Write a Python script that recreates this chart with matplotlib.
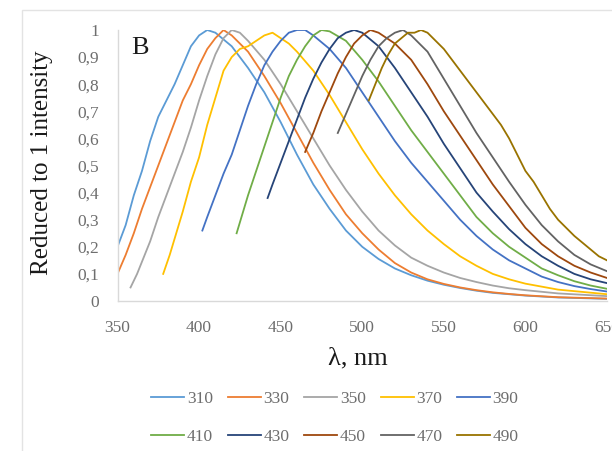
import matplotlib
matplotlib.use("Agg")
import matplotlib.pyplot as plt
from matplotlib.patches import Rectangle

plt.rcParams['font.family'] = ['Liberation Serif', 'DejaVu Serif']

labels = ["310", "330", "350", "370", "390", "410", "430", "450", "470", "490"]
colors = ["#5B9BD5", "#ED7D31", "#A5A5A5", "#FFC000", "#4472C4",
          "#70AD47", "#264478", "#9E480E", "#636363", "#997300"]

x310 = [350, 355, 360, 365, 370, 375, 380, 385, 390, 395, 400, 405, 410, 420, 430, 440, 450, 460, 470, 480,
        490, 500, 510, 520, 530, 540, 550, 560, 570, 580, 590, 600, 620, 650]
y310 = [0.20, 0.28, 0.39, 0.48, 0.59, 0.68, 0.74, 0.80, 0.87, 0.94, 0.98, 1.00, 0.99, 0.94, 0.86, 0.77, 0.66, 0.54,
        0.43, 0.34, 0.26, 0.20, 0.155, 0.12, 0.095, 0.075, 0.06, 0.048, 0.038, 0.03, 0.025, 0.02, 0.013, 0.008]

x330 = [350, 355, 360, 365, 370, 375, 380, 385, 390, 395, 400, 405, 410, 415, 420, 430, 440, 450, 460, 470,
        480, 490, 500, 510, 520, 530, 540, 550, 560, 570, 580, 590, 600, 620, 650]
y330 = [0.10, 0.17, 0.25, 0.34, 0.42, 0.50, 0.58, 0.66, 0.74, 0.80, 0.87, 0.93, 0.97, 1.00, 0.98, 0.92, 0.83,
        0.73, 0.62, 0.51, 0.41, 0.32, 0.25, 0.19, 0.14, 0.105, 0.08, 0.063, 0.05, 0.04, 0.032, 0.026, 0.021,
        0.014, 0.009]

x350 = [358, 362, 366, 370, 375, 380, 385, 390, 395, 400, 405, 410, 415, 420, 425, 430, 440, 450, 460, 470,
        480, 490, 500, 510, 520, 530, 540, 550, 560, 570, 580, 590, 600, 620, 650]
y350 = [0.05, 0.10, 0.16, 0.22, 0.31, 0.39, 0.47, 0.55, 0.64, 0.74, 0.83, 0.91, 0.97, 1.00, 0.99, 0.96, 0.89,
        0.80, 0.70, 0.60, 0.50, 0.41, 0.33, 0.26, 0.205, 0.16, 0.13, 0.105, 0.085, 0.07, 0.057, 0.047, 0.04,
        0.028, 0.018]

x370 = [378, 382, 386, 390, 395, 400, 405, 410, 415, 420, 425, 430, 435, 440, 445, 450, 455, 460, 470, 480,
        490, 500, 510, 520, 530, 540, 550, 560, 570, 580, 590, 600, 620, 650]
y370 = [0.10, 0.17, 0.25, 0.33, 0.44, 0.53, 0.65, 0.75, 0.85, 0.90, 0.93, 0.94, 0.96, 0.98, 0.99, 0.97, 0.95,
        0.92, 0.85, 0.76, 0.66, 0.56, 0.47, 0.39, 0.32, 0.26, 0.21, 0.165, 0.13, 0.10, 0.08, 0.064, 0.042, 0.025]

x390 = [402, 405, 410, 415, 420, 425, 430, 435, 440, 445, 450, 455, 460, 465, 470, 480, 490, 500, 510, 520,
        530, 540, 550, 560, 570, 580, 590, 600, 610, 620, 630, 640, 650]
y390 = [0.26, 0.31, 0.39, 0.47, 0.54, 0.63, 0.72, 0.80, 0.87, 0.92, 0.96, 0.99, 1.00, 1.00, 0.98, 0.93, 0.86,
        0.77, 0.68, 0.59, 0.51, 0.44, 0.37, 0.30, 0.24, 0.19, 0.15, 0.12, 0.09, 0.07, 0.055, 0.044, 0.035]

x410 = [423, 425, 430, 435, 440, 445, 450, 455, 460, 465, 470, 475, 480, 490, 500, 510, 520, 530, 540, 550,
        560, 570, 580, 590, 600, 610, 620, 630, 640, 650]
y410 = [0.25, 0.29, 0.39, 0.48, 0.57, 0.66, 0.75, 0.83, 0.89, 0.94, 0.98, 1.00, 0.995, 0.96, 0.89, 0.81, 0.72,
        0.63, 0.55, 0.47, 0.39, 0.31, 0.25, 0.20, 0.16, 0.12, 0.095, 0.073, 0.057, 0.045]

x430 = [442, 445, 450, 455, 460, 465, 470, 475, 480, 485, 490, 495, 500, 510, 520, 530, 540, 550, 560, 570,
        580, 590, 600, 610, 620, 630, 640, 650]
y430 = [0.38, 0.43, 0.51, 0.59, 0.67, 0.75, 0.82, 0.88, 0.93, 0.97, 0.99, 1.00, 0.99, 0.94, 0.86, 0.77, 0.68,
        0.58, 0.49, 0.40, 0.33, 0.265, 0.21, 0.165, 0.13, 0.10, 0.08, 0.066]

x450 = [465, 470, 475, 480, 485, 490, 495, 500, 505, 510, 520, 530, 540, 550, 560, 570, 580, 590, 600, 610,
        620, 630, 640, 650]
y450 = [0.55, 0.62, 0.70, 0.77, 0.84, 0.90, 0.95, 0.98, 1.00, 0.99, 0.95, 0.89, 0.80, 0.70, 0.61, 0.52, 0.43,
        0.35, 0.27, 0.21, 0.165, 0.13, 0.105, 0.085]

x470 = [485, 490, 495, 500, 505, 510, 515, 520, 525, 530, 540, 550, 560, 570, 580, 590, 600, 610, 620, 630,
        640, 650]
y470 = [0.62, 0.69, 0.76, 0.83, 0.89, 0.94, 0.97, 0.99, 1.00, 0.98, 0.92, 0.82, 0.72, 0.62, 0.53, 0.44, 0.355,
        0.28, 0.22, 0.17, 0.135, 0.11]

x490 = [504, 508, 512, 516, 520, 524, 528, 532, 536, 540, 545, 550, 555, 560, 565, 570, 575, 580, 585, 590,
        595, 600, 605, 610, 615, 620, 625, 630, 635, 640, 645, 650]
y490 = [0.74, 0.80, 0.86, 0.91, 0.95, 0.97, 0.99, 0.99, 1.00, 0.99, 0.96, 0.93, 0.89, 0.85, 0.81, 0.77, 0.73,
        0.69, 0.65, 0.60, 0.54, 0.48, 0.44, 0.39, 0.34, 0.30, 0.27, 0.24, 0.215, 0.19, 0.165, 0.15]

xs = [x310, x330, x350, x370, x390, x410, x430, x450, x470, x490]
ys = [y310, y330, y350, y370, y390, y410, y430, y450, y470, y490]

yticks = [0, 0.1, 0.2, 0.3, 0.4, 0.5, 0.6, 0.7, 0.8, 0.9, 1.0]
ytick_labels = ["0", "0,1", "0,2", "0,3", "0,4", "0,5", "0,6", "0,7", "0,8", "0,9", "1"]
xticks = [350, 400, 450, 500, 550, 600, 650]

W, H = 612, 451
fig = plt.figure(figsize=(W / 100, H / 100), dpi=100)
fig.patches.append(Rectangle((22 / W, -0.05), 1.2, (H - 10) / H + 0.05, transform=fig.transFigure,
                             fill=False, edgecolor="#E3E3E3", lw=1.0))
ax = fig.add_axes([117.5 / W, (H - 301) / H, (607 - 117.5) / W, (301 - 30) / H])

handles = []
for x, y, c, lab in zip(xs, ys, colors, labels):
    h, = ax.plot(x, y, color=c, lw=1.3, label=lab)
    handles.append(h)

ax.set_xlim(350, 650)
ax.set_ylim(0, 1)
ax.set_xticks(xticks)
ax.set_xticklabels([str(v) for v in xticks])
ax.set_yticks(yticks)
ax.set_yticklabels(ytick_labels)
ax.tick_params(axis='both', length=0, labelsize=12.5, labelcolor="#6E6E6E")
ax.tick_params(axis='x', pad=14)
ax.tick_params(axis='y', pad=13)
for s in ["top", "right"]:
    ax.spines[s].set_visible(False)
for s in ["left", "bottom"]:
    ax.spines[s].set_color("#D9D9D9")
    ax.spines[s].set_linewidth(1.0)

fig.text(42 / W, (H - 163) / H, "Reduced to 1 intensity", rotation=90, ha="center", va="center",
         fontsize=18, color="#1A1A1A")
fig.text(358 / W, (H - 358) / H, "λ, nm", ha="center", va="center", fontsize=19, color="#1A1A1A")
fig.text(140 / W, (H - 48) / H, "B", ha="center", va="center", fontsize=19, color="#1A1A1A")

# legend filled row by row (matplotlib fills column-major)
order = [0, 5, 1, 6, 2, 7, 3, 8, 4, 9]
leg = fig.legend(handles=[handles[i] for i in order], labels=[labels[i] for i in order],
                 loc="center", ncol=5,
                 bbox_to_anchor=(335 / W, (H - 418) / H), frameon=False,
                 fontsize=12.5, handlelength=1.9, handletextpad=0.15, columnspacing=0.85,
                 labelspacing=1.25, labelcolor="#6E6E6E")

fig.savefig("out.png", dpi=100)
